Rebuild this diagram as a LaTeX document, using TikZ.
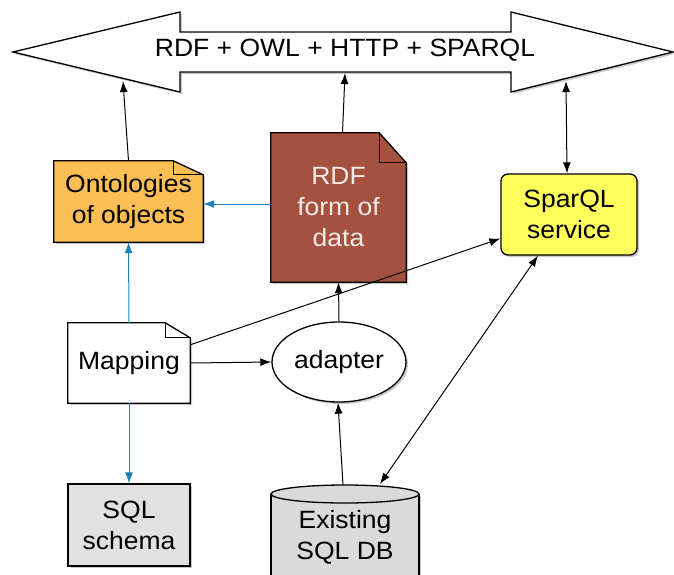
\documentclass[tikz,border=0pt]{standalone}
\usepackage{fontspec}
\setmainfont[FakeStretch=1.06]{Liberation Sans}
\usetikzlibrary{arrows.meta,shadows,backgrounds,shapes.geometric}
\definecolor{ontfill}{HTML}{FDBE55}
\definecolor{rdffill}{HTML}{A5513F}
\definecolor{sparqlfill}{HTML}{FFFF5C}
\definecolor{grayfill}{HTML}{E1E1E1}
\definecolor{dbfill}{HTML}{DADADA}
\definecolor{blueline}{HTML}{1F7FB5}
\definecolor{rdftext}{HTML}{F2EBE4}
\tikzset{
  lbl/.style={font=\fontsize{25}{31}\selectfont, align=center, inner sep=0pt},
  boxshadow/.style={drop shadow={shadow xshift=2pt, shadow yshift=-2pt, opacity=0.35, fill=black!60}},
  conn/.style={line width=1pt, -{Latex[length=11pt,width=8pt]}},
  bconn/.style={line width=1pt, {Latex[length=11pt,width=8pt]}-{Latex[length=11pt,width=8pt]}},
  blueconn/.style={line width=1pt, draw=blueline, -{Latex[length=11pt,width=8pt,fill=blueline]}},
  border/.style={line width=1.3pt, draw=black},
}
\newcommand{\mydogear}[4]{%
  \begin{scope}[on background layer]
  \fill[#4, boxshadow] (#1.north west) -- ([xshift=-#2pt]#1.north east) -- ([yshift=-#3pt]#1.north east) -- (#1.south east) -- (#1.south west) -- cycle;
  \draw[border, line join=miter] (#1.north west) -- ([xshift=-#2pt]#1.north east) -- ([yshift=-#3pt]#1.north east) -- (#1.south east) -- (#1.south west) -- cycle;
  \draw[line width=1pt] ([xshift=-#2pt]#1.north east) -- ([xshift=-#2pt,yshift=-#3pt]#1.north east) -- ([yshift=-#3pt]#1.north east);
  \end{scope}}
\begin{document}
\begin{tikzpicture}[x=1pt,y=-1pt]
\useasboundingbox (0,0) rectangle (674,574);

% big double arrow
\path[fill=white, boxshadow] (13,52) -- (180,12) -- (180,32) -- (511,32) -- (511,12) -- (673,52) -- (511,92) -- (511,72) -- (180,72) -- (180,92) -- cycle;
\draw[line width=1.3pt, line join=miter] (13,52) -- (180,12) -- (180,32) -- (511,32) -- (511,12) -- (673,52) -- (511,92) -- (511,72) -- (180,72) -- (180,92) -- cycle;
\node[lbl] (bus) at (345,50) {RDF + OWL + HTTP + SPARQL};
\coordinate (busA) at (123,81);
\coordinate (busB) at (345,73);
\coordinate (busC) at (566,81);

% ontologies
\node[lbl, minimum width=149pt, minimum height=81pt] (ont) at (128.5,201.5) {Ontologies\\of objects};
\mydogear{ont}{30}{14}{ontfill}

% RDF doc
\node[lbl, minimum width=135pt, minimum height=149pt, text=rdftext] (rdf) at (338.5,207.5) {RDF\\form of\\data};
\mydogear{rdf}{27}{30}{rdffill}

% SparQL
\node[lbl, minimum width=136pt, minimum height=81pt, fill=sparqlfill, border, rounded corners=7pt, boxshadow] (sparql) at (569,214.5) {SparQL\\service};

% Mapping
\node[lbl, minimum width=122pt, minimum height=80pt] (map) at (129,363) {Mapping};
\mydogear{map}{25}{15}{white}

% adapter
\node[lbl, ellipse, minimum width=134pt, minimum height=80pt, fill=white, border, boxshadow] (adapter) at (339,362) {adapter};

% SQL schema
\node[lbl, minimum width=122pt, minimum height=82pt, fill=grayfill, border, boxshadow] (schema) at (129,525) {SQL\\schema};

% Existing SQL DB cylinder
\fill[dbfill, boxshadow] (271,494) -- (271,620) -- (419,620) -- (419,494) -- cycle;
\fill[dbfill] (345,494) ellipse [x radius=74, y radius=9];
\draw[line width=1.3pt] (271,494) -- (271,620);
\draw[line width=1.3pt] (419,494) -- (419,620);
\draw[line width=1.3pt] (345,494) ellipse [x radius=74, y radius=9];
\node[lbl] (db) at (345,537) {Existing\\SQL DB};
\coordinate (dbtop) at (343,485);
\coordinate (dbright) at (380,484);

% connectors
\draw[conn] (ont.north) -- (busA);
\draw[conn] ([xshift=4pt]rdf.north) -- (busB);
\draw[bconn] ([xshift=-2pt]sparql.north) -- (busC);
\draw[blueconn] (rdf.west |- 0,204) -- (ont.east |- 0,204);
\draw[blueconn] (map.north) -- (ont.south);
\draw[blueconn] (map.south) -- (schema.north);
\draw[conn] (map.east) -- (adapter.west);
\draw[conn] ([yshift=-22pt]map.north east) -- ([yshift=-24pt]sparql.west);
\draw[conn] (adapter.north) -- (rdf.south);
\draw[conn] (dbtop) -- ([xshift=-1pt]adapter.south);
\draw[bconn] ([xshift=-31pt]sparql.south) -- (dbright);
\end{tikzpicture}
\end{document}
